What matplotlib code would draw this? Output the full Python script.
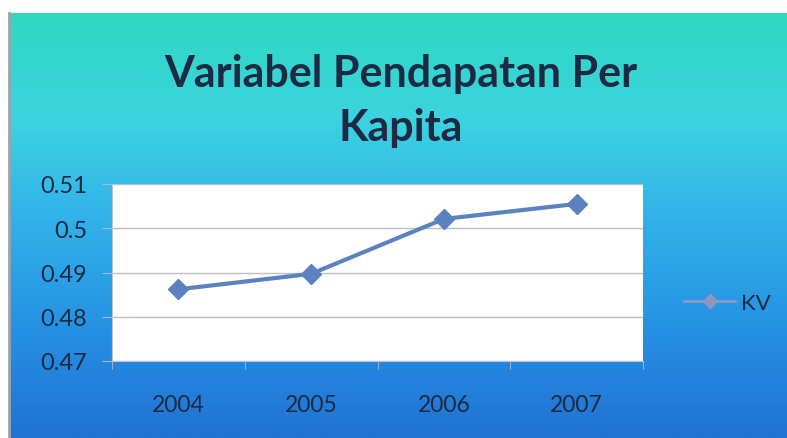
import matplotlib as mpl
mpl.use('Agg')
mpl.rcParams['font.family'] = ['Lato', 'DejaVu Sans']
import matplotlib.pyplot as plt
import numpy as np
from matplotlib.colors import LinearSegmentedColormap

years = ['2004', '2005', '2006', '2007']
kv = [0.4862, 0.4897, 0.5021, 0.5055]
yticks = [0.47, 0.48, 0.49, 0.50, 0.51]
ytick_labels = ['0.47', '0.48', '0.49', '0.5', '0.51']

title = 'Variabel Pendapatan Per\nKapita'
text_color = '#1e2a44'
line_color = '#5b82bf'

fig = plt.figure(figsize=(7.87, 4.39), dpi=100)
fig.patch.set_facecolor('white')

# gradient slide background
bg = fig.add_axes([10 / 787, 0, 1 - 10 / 787, 425 / 439])
cmap = LinearSegmentedColormap.from_list('slide', [
    (0.0, '#2172d3'),
    (0.25, '#2590e3'),
    (0.55, '#33b6e9'),
    (0.75, '#3cd3e0'),
    (1.0, '#2fd8bf'),
])
grad = np.linspace(0, 1, 256).reshape(-1, 1)
bg.imshow(grad, aspect='auto', cmap=cmap, origin='lower', extent=[0, 1, 0, 1])
bg.set_xlim(0, 1)
bg.set_ylim(0, 1)
bg.axis('off')
fig.add_artist(plt.Line2D([9 / 787, 9 / 787], [0, 425 / 439], color='#9aa4ad', lw=2))

fig.text(401 / 787, 1 - 101 / 439, title, ha='center', va='center',
         fontsize=31, fontweight='bold', color=text_color, linespacing=1.42)

ax = fig.add_axes([112 / 787, 77 / 439, 531 / 787, 177 / 439])
ax.set_facecolor('white')
x = np.arange(len(years))
ax.plot(x, kv, color=line_color, lw=3, marker='D', markersize=10,
        label='KV', zorder=3)
ax.set_xlim(-0.5, len(years) - 0.5)
ax.set_ylim(0.47, 0.51)
ax.set_yticks(yticks)
ax.set_yticklabels(ytick_labels)
ax.set_xticks(x)
ax.set_xticklabels(years)
ax.set_xticks(np.arange(-0.5, len(years)), minor=True)
ax.tick_params(axis='x', which='major', length=0, pad=24, labelsize=16.5, labelcolor=text_color)
ax.tick_params(axis='x', which='minor', length=6, color='#a9b9c9', direction='out')
ax.tick_params(axis='y', length=7, color='#a9b9c9', labelsize=17, labelcolor=text_color, pad=11)
ax.grid(axis='y', color='#bfbfbf', lw=1)
ax.set_axisbelow(True)
for side in ['top', 'right']:
    ax.spines[side].set_visible(False)
for side in ['left', 'bottom']:
    ax.spines[side].set_color('#b8c4cf')

leg = ax.legend(loc='center left', bbox_to_anchor=(1.04, 0.33), frameon=False,
                fontsize=16, labelcolor=text_color, handlelength=2.3, handletextpad=0.25)
h = leg.legend_handles[0]
h.set_color('#8f97bf')
h.set_markerfacecolor('#8f97bf')
h.set_markeredgecolor('#8f97bf')
h.set_markersize(7)
h.set_linewidth(2)

fig.savefig('out.png', dpi=100, facecolor=fig.get_facecolor())
